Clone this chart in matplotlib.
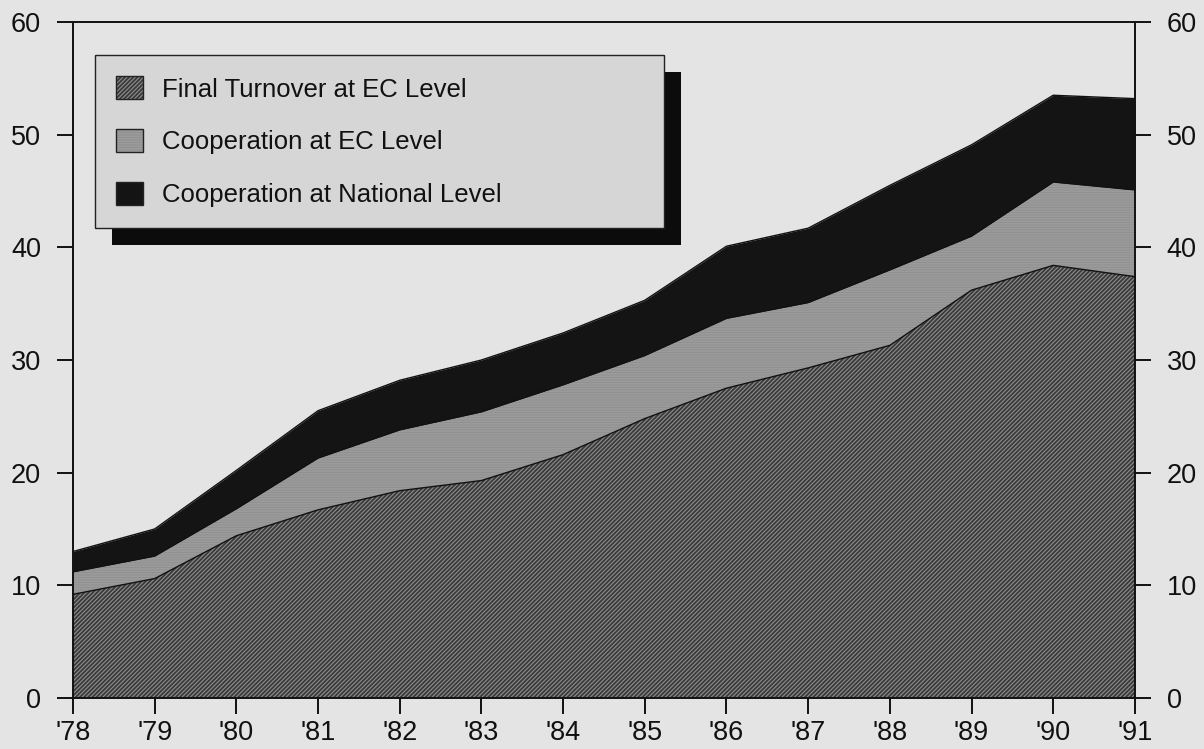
import matplotlib
matplotlib.use("Agg")
import matplotlib.pyplot as plt
from matplotlib.patches import Patch, Rectangle
from matplotlib.transforms import IdentityTransform

# Yearly figures (stacked), '78 to '91
years = ["'78", "'79", "'80", "'81", "'82", "'83", "'84",
         "'85", "'86", "'87", "'88", "'89", "'90", "'91"]
final_turnover_ec = [9.2, 10.6, 14.4, 16.7, 18.4, 19.3, 21.6,
                     24.8, 27.5, 29.3, 31.3, 36.2, 38.4, 37.4]
coop_ec = [2.0, 2.0, 2.4, 4.6, 5.4, 6.1, 6.2,
           5.6, 6.2, 5.8, 6.7, 4.8, 7.4, 7.7]
coop_national = [1.8, 2.4, 3.4, 4.2, 4.4, 4.6, 4.6,
                 4.9, 6.4, 6.6, 7.5, 8.1, 7.7, 8.1]
series_labels = ["Final Turnover at EC Level",
                 "Cooperation at EC Level",
                 "Cooperation at National Level"]
y_ticks = [0, 10, 20, 30, 40, 50, 60]

BG = "#e4e4e4"
plt.rcParams["font.family"] = ["Liberation Sans", "DejaVu Sans"]
plt.rcParams["hatch.linewidth"] = 0.8

fig = plt.figure(figsize=(12.04, 7.49), dpi=100, facecolor=BG)
ax = fig.add_axes([0.0606, 0.0681, 0.882, 0.9025], facecolor=BG)

x = list(range(len(years)))
lvl1 = final_turnover_ec
lvl2 = [a + b for a, b in zip(lvl1, coop_ec)]
lvl3 = [a + b for a, b in zip(lvl2, coop_national)]

styles = [
    dict(face="#3a3a3a", hatch="////////", hcol="#8e8e8e"),
    dict(face="#a4a4a4", hatch="----------", hcol="#909090"),
    dict(face="#141414", hatch=None, hcol="#141414"),
]
bands = [([0] * len(x), lvl1), (lvl1, lvl2), (lvl2, lvl3)]

for (lo, hi), st in zip(bands, styles):
    with plt.rc_context({"hatch.color": st["hcol"]}):
        ax.fill_between(x, lo, hi, facecolor=st["face"], edgecolor=st["hcol"],
                        hatch=st["hatch"], linewidth=0, zorder=2)
for top in (lvl1, lvl2, lvl3):
    ax.plot(x, top, color="#111111", lw=1.0, zorder=3)

ax.set_xlim(0, len(x) - 1)
ax.set_ylim(0, 60)
ax.set_xticks(x)
ax.set_xticklabels(years)
ax.set_yticks(y_ticks)

for side in ("left", "right", "top", "bottom"):
    ax.spines[side].set_linewidth(1.4)
    ax.spines[side].set_color("#111111")
    ax.spines[side].set_zorder(4)

ax.tick_params(axis="x", direction="out", length=11.5, width=1.4,
               labelsize=19.5, pad=4, colors="#111111")
ax.tick_params(axis="y", direction="out", length=11.5, width=1.4,
               labelsize=19.5, pad=11.5, colors="#111111",
               left=True, right=True, labelleft=True, labelright=True)

# Legend swatches: fill plus a dark outline drawn on top
handles = []
for st in styles:
    with plt.rc_context({"hatch.color": st["hcol"]}):
        fill = Patch(facecolor=st["face"], edgecolor=st["hcol"],
                     hatch=st["hatch"], linewidth=0)
    outline = Patch(facecolor="none", edgecolor="#222222", linewidth=1.0)
    handles.append((fill, outline))

leg = ax.legend(handles, series_labels, loc="upper left",
                bbox_to_anchor=(0.0207, 0.697, 0.536, 0.254), mode="expand",
                fontsize=18.5, frameon=True, fancybox=False, shadow=False,
                borderpad=0.82, labelspacing=1.07, handlelength=1.05,
                handleheight=1.0, handletextpad=0.75, borderaxespad=0)
frame = leg.get_frame()
frame.set_facecolor("#d6d6d6")
frame.set_edgecolor("#222222")
frame.set_linewidth(1.0)
frame.set_alpha(1)
leg.set_zorder(6)
for t in leg.get_texts():
    t.set_color("#111111")

# Solid drop shadow behind the legend box
fig.canvas.draw()
bb = leg.get_window_extent()
shadow = Rectangle((bb.x0 + 17, bb.y0 - 17), bb.width, bb.height,
                   transform=IdentityTransform(), facecolor="#0c0c0c",
                   edgecolor="none", zorder=5.5)
ax.add_artist(shadow)

fig.savefig("out.png", dpi=100, facecolor=BG)
